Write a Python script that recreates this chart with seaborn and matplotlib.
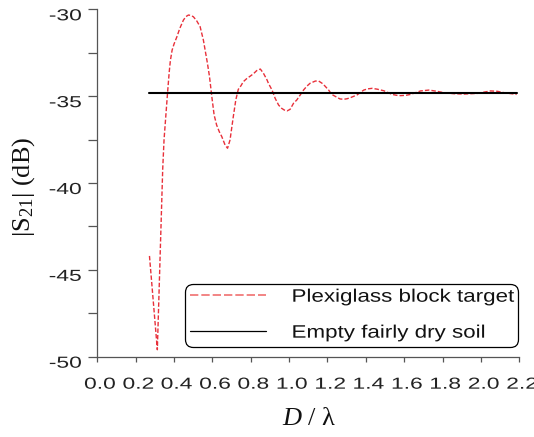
import matplotlib
matplotlib.use("Agg")
import numpy as np
import pandas as pd
import matplotlib.pyplot as plt
import seaborn as sns
from matplotlib.patheffects import AbstractPathEffect
from matplotlib.transforms import Affine2D
from matplotlib.lines import Line2D
from matplotlib.ticker import MultipleLocator

# ---------------- data ----------------
series_names = ["Plexiglass block target", "Empty fairly dry soil"]

plexi_x = [0.272, 0.313, 0.341, 0.348, 0.366, 0.375, 0.381, 0.390, 0.400, 0.415,
           0.430, 0.449, 0.462, 0.475, 0.488, 0.501, 0.518, 0.536, 0.553, 0.562,
           0.574, 0.585, 0.597, 0.609, 0.622, 0.636, 0.649, 0.666, 0.679, 0.692,
           0.709, 0.722, 0.735, 0.749, 0.761, 0.780, 0.797, 0.813, 0.831, 0.850,
           0.866, 0.885, 0.892, 0.911, 0.927, 0.945, 0.961, 0.975, 0.989, 1.005,
           1.023, 1.040, 1.058, 1.075, 1.093, 1.109, 1.137, 1.154, 1.172, 1.187,
           1.206, 1.222, 1.250, 1.265, 1.285, 1.302, 1.319, 1.354, 1.389, 1.410,
           1.433, 1.460, 1.494, 1.537, 1.560, 1.581, 1.610, 1.633, 1.685, 1.729,
           1.770, 1.807, 1.860, 1.911, 1.981, 2.020, 2.050, 2.085, 2.120, 2.186]
plexi_y = [-44.2, -49.6, -39.2, -37.5, -34.84, -33.6, -32.95, -32.35, -32.0, -31.58,
           -31.1, -30.62, -30.42, -30.33, -30.35, -30.43, -30.66, -31.0, -31.77, -32.34,
           -33.1, -33.88, -35.03, -36.08, -36.66, -37.05, -37.33, -37.81, -38.0, -37.52,
           -36.18, -35.22, -34.61, -34.4, -34.17, -33.98, -33.85, -33.72, -33.53, -33.44,
           -33.68, -34.07, -34.26, -34.65, -35.12, -35.51, -35.7, -35.8, -35.85, -35.76,
           -35.41, -35.22, -34.93, -34.65, -34.42, -34.26, -34.13, -34.13, -34.26, -34.42,
           -34.65, -34.9, -35.07, -35.16, -35.18, -35.15, -35.09, -34.93, -34.65, -34.58,
           -34.55, -34.6, -34.69, -34.9, -34.95, -34.97, -34.95, -34.9, -34.7, -34.65,
           -34.72, -34.8, -34.86, -34.88, -34.84, -34.76, -34.7, -34.72, -34.8, -34.9]

soil_x = [0.272, 0.70, 1.10, 1.50, 1.90, 2.186]
soil_y = [-34.83, -34.83, -34.83, -34.83, -34.83, -34.83]

xticks = [0.0, 0.2, 0.4, 0.6, 0.8, 1.0, 1.2, 1.4, 1.6, 1.8, 2.0, 2.2]
xtick_labels = ["0.0", "0.2", "0.4", "0.6", "0.8", "1.0", "1.2", "1.4", "1.6", "1.8", "2.0", "2.2"]
yticks = [-50, -45, -40, -35, -30]
ytick_labels = ["-50", "-45", "-40", "-35", "-30"]


# ---------------- horizontal text stretch (text stays real text) ----------------
class HStretch(AbstractPathEffect):
    def __init__(self, sx, anchor="center"):
        super().__init__(offset=(0, 0))
        self._sx = sx
        self._anchor = anchor

    def draw_path(self, renderer, gc, tpath, affine, rgbFace=None):
        v = tpath.vertices
        if v is None or len(v) == 0:
            renderer.draw_path(gc, tpath, affine, rgbFace)
            return
        xmin, xmax = float(v[:, 0].min()), float(v[:, 0].max())
        cx = {"left": xmin, "right": xmax}.get(self._anchor, 0.5 * (xmin + xmax))
        pre = Affine2D().translate(-cx, 0).scale(self._sx, 1.0).translate(cx, 0)
        m = affine.get_matrix() @ pre.get_matrix()
        renderer.draw_path(gc, tpath, Affine2D(m), rgbFace)


# ---------------- style ----------------
sns.set_theme(style="ticks")
plt.rcParams["font.family"] = ["Liberation Sans", "DejaVu Sans"]
plt.rcParams["mathtext.fontset"] = "custom"
plt.rcParams["mathtext.rm"] = "Liberation Serif"
plt.rcParams["mathtext.it"] = "Liberation Serif:italic"
plt.rcParams["mathtext.default"] = "rm"

fig = plt.figure(figsize=(5.34, 4.37), dpi=100)
fig.patch.set_facecolor("white")
ax = fig.add_axes([0.1822, 0.1838, 0.7903, 0.7949])
ax.set_facecolor("white")

sns.lineplot(x=plexi_x, y=plexi_y, ax=ax, color="#e8303a", lw=1.0,
             linestyle=(0, (3.2, 1.5)), sort=False, estimator=None, legend=False)
sns.lineplot(x=soil_x, y=soil_y, ax=ax, color="black", lw=1.5,
             sort=False, estimator=None, legend=False)

ax.set_xlim(0, 2.2)
ax.set_ylim(-50, -30)
for s in ["top", "right"]:
    ax.spines[s].set_visible(False)
for s in ["left", "bottom"]:
    ax.spines[s].set_color("#555555")
    ax.spines[s].set_linewidth(0.9)

ax.set_xticks(xticks)
ax.set_xticklabels(xtick_labels)
ax.set_yticks(yticks)
ax.set_yticklabels(ytick_labels)
ax.yaxis.set_minor_locator(MultipleLocator(2.5))

ax.tick_params(axis="y", which="both", direction="out", length=6.5, width=0.9,
               color="#555555", pad=4.8, labelsize=11.5, labelcolor="#222222")
ax.tick_params(axis="x", which="both", direction="out", length=3.6, width=0.9,
               color="#555555", pad=10.8, labelsize=11.5, labelcolor="#222222")

for lab in ax.get_yticklabels():
    lab.set_transform(lab.get_transform() + Affine2D().translate(0, -5))
    lab.set_path_effects([HStretch(1.43, "right")])
for lab in ax.get_xticklabels():
    lab.set_transform(lab.get_transform() + Affine2D().translate(2.5, 0))
    lab.set_path_effects([HStretch(1.43, "center")])

ax.set_ylabel(r"|S$_{21}$| (dB)", fontfamily=["Liberation Serif", "DejaVu Serif"],
              fontsize=19, color="#111111")
ax.yaxis.set_label_coords(-0.142, 0.489)
ax.set_xlabel(r"$\mathit{D}$ / λ", fontfamily=["Liberation Serif", "DejaVu Serif"],
              fontsize=19, color="#111111")
ax.xaxis.set_label_coords(0.503, -0.148)

handles = [Line2D([], [], color="#f07070", lw=1.2, linestyle=(0, (5, 1.8))),
           Line2D([], [], color="black", lw=0.9)]
leg = ax.legend(handles, series_names, loc="lower left",
                bbox_to_anchor=(0.3464, 0.2066, 0.623, 0.15),
                bbox_transform=fig.transFigure, mode="expand", borderaxespad=0,
                fontsize=13, handlelength=4.2, handletextpad=1.42, borderpad=0.28,
                labelspacing=1.05, frameon=True, fancybox=True, framealpha=1,
                edgecolor="black")
leg.get_frame().set_linewidth(0.9)
leg.get_frame().set_boxstyle("round", pad=0, rounding_size=0.45)
for t in leg.get_texts():
    t.set_color("#111111")
    t.set_path_effects([HStretch(1.24, "left")])

fig.savefig("out.png", dpi=100, facecolor="white")
